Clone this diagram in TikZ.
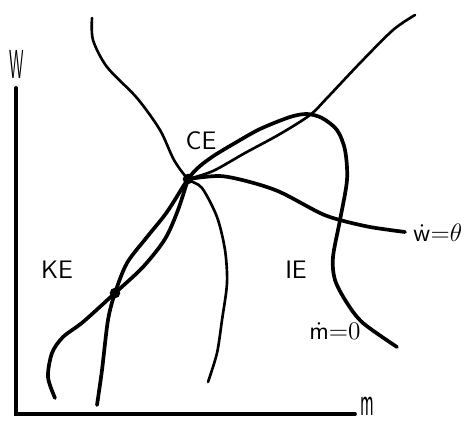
\documentclass[tikz,border=0pt]{standalone}
\usepackage{amsmath}
\usetikzlibrary{calc}

\tikzset{
  axis/.style={line width=2.2pt, line cap=round},
  thincurve/.style={line width=1.5pt, line cap=round, line join=round},
  thickcurve/.style={line width=2.1pt, line cap=round, line join=round},
  lbl/.style={font=\sffamily\Large, inner sep=0pt},
}

\begin{document}
\begin{tikzpicture}[x=0.02cm, y=-0.02cm]
  \useasboundingbox (0,0) rectangle (469,424);

  % equilibrium points and axis ends
  \coordinate (KE) at (115,293);
  \coordinate (CE) at (188,179);
  \coordinate (O) at (16,414);
  \coordinate (ytop) at (16,88);
  \coordinate (xend) at (355,414);

  % axes
  \draw[axis] (ytop) -- (O) -- (xend);
  \node[lbl] (wlab) at (17,64) {\scalebox{0.62}[1.6]{W}};
  \node[lbl] (mlab) at (367,406) {\scalebox{0.7}[1.6]{m}};

  % wavy curve through CE, down to the axis
  \draw[thincurve] plot[smooth] coordinates {(92,18) (93,40) (107,67) (137,98)
    (160,130) (174,160) (CE) (202,188) (217,217) (225,250) (227,283) (222,320)
    (217,353) (208,382)};

  % hook curve: bottom left -> KE -> CE (right side of the lens)
  \draw[thickcurve] plot[smooth] coordinates {(55,398) (48,377) (52,353) (63,337)
    (83,322) (KE) (143,267) (165,239) (178,210) (CE)};

  % diagonal from CE to upper right
  \draw[thincurve] plot[smooth] coordinates {(CE) (213,171) (245,153) (280,134)
    (310,115) (327,98) (360,63) (393,30) (415,15)};

  % w-dot = 0 line
  \draw[thickcurve] plot[smooth] coordinates {(CE) (220,176) (250,182) (280,192)
    (320,213) (340,220) (370,227) (405,232)};

  % m-dot = 0 curve: bottom -> KE -> CE -> loop -> down right
  \draw[thickcurve] plot[smooth] coordinates {(97,405) (102,370) (108,320) (KE)
    (127,263) (147,237) (167,212) (CE) (200,166) (215,155) (235,143) (260,129)
    (290,117) (307,114) (322,118) (337,130) (345,150) (347,180) (340,220)
    (333,257) (335,280) (347,303) (363,323) (397,347)};

  % dots
  \fill (KE) circle (3pt);
  \fill (CE) circle (3pt);

  % region labels
  \node[lbl] (celab) at (201,141) {CE};
  \node[lbl] (kelab) at (57,270) {KE};
  \node[lbl] (ielab) at (296,270) {IE};
  \node[lbl, anchor=west] (wdot) at (413,233) {$\dot{\mathsf{w}}{=}\theta$};
  \node[lbl, anchor=west] (mdot) at (309,331) {$\dot{\mathsf{m}}{=}0$};
\end{tikzpicture}
\end{document}
